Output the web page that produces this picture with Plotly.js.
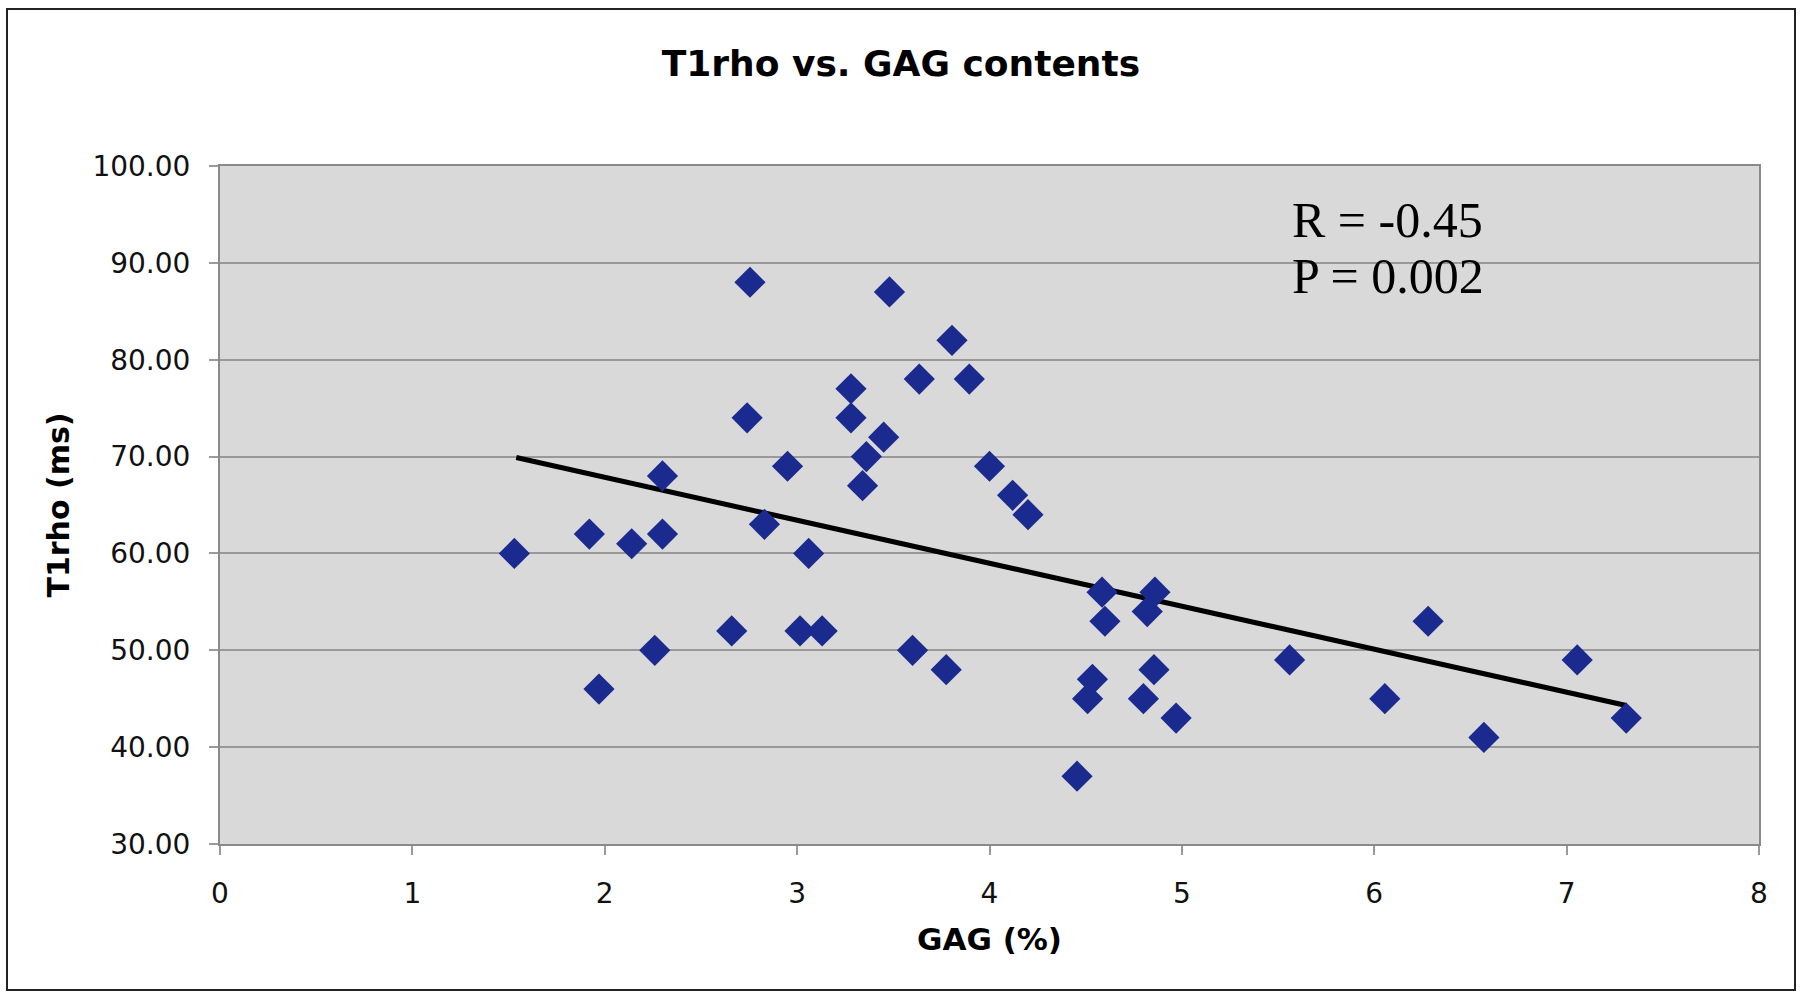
<!DOCTYPE html>
<html>
<head>
<meta charset="utf-8">
<script src="https://cdn.plot.ly/plotly-3.0.1.min.js"></script>
<style>
  html, body { margin: 0; padding: 0; background: #ffffff; }
  #wrap { position: relative; width: 1800px; height: 999px; }
  #chart { width: 1800px; height: 999px; }
  #frame { position: absolute; left: 6px; top: 8px; width: 1786px; height: 979px;
           border: 2px solid #222; pointer-events: none; }
</style>
</head>
<body>
<div id="wrap">
  <div id="chart"></div>
  <div id="frame"></div>
</div>
<script>
// GAG content (%) and T1rho (ms)
const gag = [1.53, 1.92, 1.97, 2.14, 2.26, 2.30, 2.30, 2.66, 2.74, 2.755,
             2.83, 2.95, 3.015, 3.06, 3.13, 3.28, 3.28, 3.34, 3.36, 3.45,
             3.48, 3.60, 3.635, 3.775, 3.805, 3.895, 4.00, 4.12, 4.20, 4.455,
             4.51, 4.535, 4.585, 4.60, 4.80, 4.82, 4.855, 4.86, 4.97, 5.56,
             6.055, 6.28, 6.57, 7.055, 7.31];
const t1rho = [60, 62, 46, 61, 50, 62, 68, 52, 74, 88,
               63, 69, 52, 60, 52, 77, 74, 67, 70, 72,
               87, 50, 78, 48, 82, 78, 69, 66, 64, 37,
               45, 47, 56, 53, 45, 54, 48, 56, 43, 49,
               45, 53, 41, 49, 43];
// Linear trend line end points
const trendX = [1.54, 7.31];
const trendY = [69.9, 44.3];

const titleText = "T1rho vs. GAG contents";
const xTitle = "GAG (%)";
const yTitle = "T1rho (ms)";
const statR = "R = -0.45";
const statP = "P = 0.002";

const traces = [
  {
    x: trendX, y: trendY, type: 'scatter', mode: 'lines',
    line: { color: '#000000', width: 5 }, hoverinfo: 'skip', showlegend: false
  },
  {
    x: gag, y: t1rho, type: 'scatter', mode: 'markers',
    marker: { symbol: 'diamond', size: 24, color: '#1a2a8e', line: { width: 0 } },
    showlegend: false
  }
];

const layout = {
  width: 1800, height: 999,
  paper_bgcolor: '#ffffff',
  plot_bgcolor: '#d9d9d9',
  margin: { l: 220, r: 41, t: 166, b: 155 },
  title: {
    text: '<b>' + titleText + '</b>',
    font: { family: 'DejaVu Sans', size: 36, color: '#000000' },
    xref: 'container', yref: 'container', x: 0.5005, y: 0.937,
    xanchor: 'center', yanchor: 'middle'
  },
  xaxis: {
    range: [0, 8], dtick: 1, tick0: 0,
    showgrid: false, zeroline: false,
    showline: true, linecolor: '#8a8a8a', linewidth: 2, mirror: true,
    ticks: 'outside', ticklen: 9, tickwidth: 2, tickcolor: '#9a9a9a',
    ticklabelstandoff: 14,
    tickfont: { family: 'DejaVu Sans', size: 28, color: '#111111' },
    title: { text: '<b>' + xTitle + '</b>', standoff: 20,
             font: { family: 'DejaVu Sans', size: 31, color: '#000000' } }
  },
  yaxis: {
    range: [30, 100], dtick: 10, tick0: 30, tickformat: '.2f',
    showgrid: true, gridcolor: '#999999', gridwidth: 2, zeroline: false,
    showline: true, linecolor: '#8a8a8a', linewidth: 2, mirror: true,
    ticks: 'outside', ticklen: 9, tickwidth: 2, tickcolor: '#9a9a9a',
    ticklabelstandoff: 13,
    tickfont: { family: 'DejaVu Sans', size: 28, color: '#111111' },
    title: { text: '<b>' + yTitle + '</b>', standoff: 14,
             font: { family: 'DejaVu Sans', size: 30, color: '#000000' } }
  },
  annotations: [
    { text: statR, x: 5.56, y: 94.4, xref: 'x', yref: 'y', xanchor: 'left', yanchor: 'middle',
      showarrow: false, font: { family: 'Liberation Serif', size: 50, color: '#000000' } },
    { text: statP, x: 5.56, y: 88.6, xref: 'x', yref: 'y', xanchor: 'left', yanchor: 'middle',
      showarrow: false, font: { family: 'Liberation Serif', size: 50, color: '#000000' } }
  ]
};

Plotly.newPlot('chart', traces, layout, { staticPlot: true, displayModeBar: false });
</script>
</body>
</html>
